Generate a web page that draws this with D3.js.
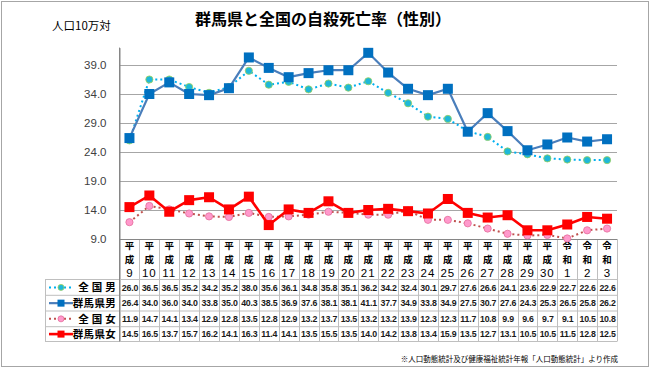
<!DOCTYPE html>
<html><head><meta charset="utf-8">
<script src="https://cdn.jsdelivr.net/npm/d3@7"></script>
<style>body{margin:0;background:#fff}svg{display:block}</style>
</head><body>
<script>
const eras = ["平成","平成","平成","平成","平成","平成","平成","平成","平成","平成","平成","平成","平成","平成","平成","平成","平成","平成","平成","平成","平成","平成","令和","令和","令和"];
const years = ["9","10","11","12","13","14","15","16","17","18","19","20","21","22","23","24","25","26","27","28","29","30","1","2","3"];
const seriesNames = ["全 国 男","群馬県男","全 国 女","群馬県女"];
const zenkokuMale = [26.0,36.5,36.5,35.2,34.2,35.2,38.0,35.6,36.1,34.8,35.8,35.1,36.2,34.2,32.4,30.1,29.7,27.6,26.6,24.1,23.6,22.9,22.7,22.6,22.6];
const gunmaMale   = [26.4,34.0,36.0,34.0,33.8,35.0,40.3,38.5,36.9,37.6,38.1,38.1,41.1,37.7,34.9,33.8,34.9,27.5,30.7,27.6,24.3,25.3,26.5,25.8,26.2];
const zenkokuFemale = [11.9,14.7,14.1,13.4,12.9,12.8,13.5,12.8,12.9,13.2,13.7,13.5,13.2,13.2,13.9,12.3,12.3,11.7,10.8,9.9,9.6,9.7,9.1,10.5,10.8];
const gunmaFemale = [14.5,16.5,13.7,15.7,16.2,14.1,16.3,11.4,14.1,13.5,15.5,13.5,14.0,14.2,13.8,13.4,15.9,13.5,12.7,13.1,10.5,10.5,11.5,12.8,12.5];
const yTicks = [9,14,19,24,29,34,39];

(function(){
const W=650,H=368;
const svg=d3.select("body").append("svg").attr("width",W).attr("height",H);
const JP='"Noto Sans CJK JP","Noto Sans",sans-serif';

svg.append("rect").attr("x",1.5).attr("y",1.5).attr("width",W-3).attr("height",H-3)
  .attr("fill","#fff").attr("stroke","#a6a6a6").attr("stroke-width",1);

const pLeft=119.5,pRight=617,pTop=47.6,pBottom=239;
const idx=d3.range(years.length);
const x=d3.scaleBand().domain(idx).range([pLeft,pRight]);
const y=d3.scaleLinear().domain([9,42]).range([pBottom,pTop]);

// gridlines
svg.append("g").selectAll("line").data(yTicks.filter(d=>d>9)).join("line")
  .attr("x1",pLeft).attr("x2",pRight).attr("y1",d=>Math.round(y(d))+0.5).attr("y2",d=>Math.round(y(d))+0.5)
  .attr("stroke","#a6a6a6").attr("stroke-width",1);

// y axis
const yAxis=d3.axisLeft(y).tickValues(yTicks).tickFormat(d3.format(".1f")).tickSize(0).tickPadding(13);
const ya=svg.append("g").attr("transform",`translate(${pLeft},0)`).call(yAxis);
ya.select(".domain").attr("stroke","#868686");
ya.selectAll("text").attr("font-family",'"Liberation Sans",Arial,sans-serif').attr("font-size",11.5).attr("fill","#404040");

// table grid
const rowTops=[279.5,295.3,311,326.7,341.5];
const tg=svg.append("g").attr("stroke","#bfbfbf").attr("stroke-width",1);
idx.concat([years.length]).forEach(i=>{
  const xx = i<years.length ? x(i) : pRight;
  tg.append("line").attr("x1",Math.round(xx)+0.5).attr("x2",Math.round(xx)+0.5).attr("y1",pBottom).attr("y2",rowTops[4]);
});
rowTops.forEach(r=>tg.append("line").attr("x1",45).attr("x2",pRight).attr("y1",r).attr("y2",r));
tg.append("line").attr("x1",45.5).attr("x2",45.5).attr("y1",rowTops[0]).attr("y2",rowTops[4]);
tg.append("line").attr("x1",pLeft).attr("x2",pRight).attr("y1",pBottom+0.5).attr("y2",pBottom+0.5).attr("stroke","#868686");
svg.append("line").attr("x1",pLeft).attr("x2",pLeft).attr("y1",pTop).attr("y2",rowTops[4]).attr("stroke","#868686");

// category header
const hg=svg.append("g").attr("font-family",JP).attr("text-anchor","middle").attr("fill","#000");
idx.forEach(i=>{
  const cx=x(i)+x.bandwidth()/2;
  hg.append("text").attr("x",cx).attr("y",249).attr("font-size",9.5).attr("font-weight","bold").text(eras[i][0]);
  hg.append("text").attr("x",cx).attr("y",263).attr("font-size",9.5).attr("font-weight","bold").text(eras[i][1]);
  hg.append("text").attr("x",cx).attr("y",277).attr("font-family",'"Liberation Sans",Arial,sans-serif').attr("font-size",11.5).attr("letter-spacing",years[i].length>1?1:0).text(years[i]);
});

const styles=[
  {data:zenkokuMale, line:"#00b0f0", dash:"2,3", width:2, marker:"circle", fill:"#1fb8d8", stroke:"#9bd05a", size:3.6},
  {data:gunmaMale, line:"#4a7ebb", dash:null, width:2.2, marker:"square", fill:"#0070c0", stroke:"#0070c0", size:10},
  {data:zenkokuFemale, line:"#c0504d", dash:"2,3", width:2, marker:"circle", fill:"#ff99cc", stroke:"#e46c9a", size:3.6},
  {data:gunmaFemale, line:"#ff0000", dash:null, width:2.6, marker:"square", fill:"#ff0000", stroke:"#ff0000", size:10}
];
const cxOf=i=>x(i)+x.bandwidth()/2;
const line=d3.line().x((d,i)=>cxOf(i)).y(d=>y(d));
function drawMarker(g,s,cx,cy){
  if(s.marker==="circle") g.append("circle").attr("cx",cx).attr("cy",cy).attr("r",s.size).attr("fill",s.fill).attr("stroke",s.stroke).attr("stroke-width",0.8);
  else g.append("rect").attr("x",cx-s.size/2).attr("y",cy-s.size/2).attr("width",s.size).attr("height",s.size).attr("fill",s.fill);
}
[2,3,0,1].forEach(k=>{
  const s=styles[k];
  const g=svg.append("g");
  g.append("path").attr("d",line(s.data)).attr("fill","none").attr("stroke",s.line).attr("stroke-width",s.width)
    .attr("stroke-dasharray",s.dash).attr("stroke-linejoin","round");
  s.data.forEach((v,i)=>drawMarker(g,s,cxOf(i),y(v)));
});

// table rows
styles.forEach((s,k)=>{
  const r0=rowTops[k], r1=rowTops[k+1], cy=(r0+r1)/2;
  const g=svg.append("g");
  g.append("line").attr("x1",49).attr("x2",73).attr("y1",cy).attr("y2",cy).attr("stroke",s.line).attr("stroke-width",s.width).attr("stroke-dasharray",s.dash);
  const ls=Object.assign({},s,{size:s.marker==="square"?7:3});
  drawMarker(g,ls,61,cy);
  g.append("text").attr("x",116).attr("y",cy+4).attr("text-anchor","end").attr("font-family",JP).attr("font-weight","bold").attr("font-size",10.5).attr("letter-spacing",0.3).text(seriesNames[k]);
  s.data.forEach((v,i)=>{
    g.append("text").attr("x",cxOf(i)+0.5).attr("y",cy+3.3).attr("text-anchor","middle")
      .attr("font-family",'"Liberation Sans",Arial,sans-serif').attr("font-weight","bold").attr("font-size",8.8).attr("fill","#1a1a1a")
      .attr("letter-spacing",-0.2).text(v.toFixed(1));
  });
});

// titles
svg.append("text").attr("x",323).attr("y",25).attr("text-anchor","middle").attr("font-family",JP).attr("font-weight","bold").attr("font-size",16).text("群馬県と全国の自殺死亡率（性別）");
svg.append("text").attr("x",52).attr("y",30).attr("font-family",JP).attr("font-size",11.5).text("人口10万対");
svg.append("text").attr("x",618).attr("y",362).attr("text-anchor","end").attr("font-family",JP).attr("font-size",7.5).text("※人口動態統計及び健康福祉統計年報「人口動態統計」より作成");
})();
</script>
</body></html>
